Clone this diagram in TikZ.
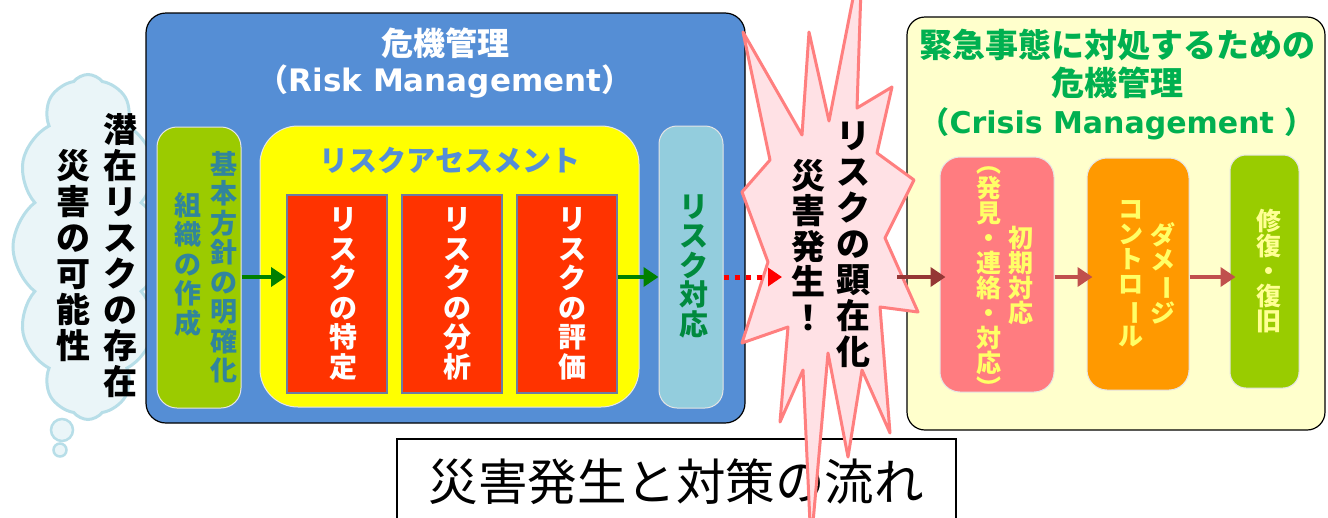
\documentclass[tikz,border=0pt]{standalone}
\usepackage{fontspec}
\setmainfont{Noto Sans CJK JP}
\newfontfamily\latinb{DejaVu Sans}
\usetikzlibrary{shapes.symbols,arrows.meta}

\definecolor{riskblue}{HTML}{558ED5}
\definecolor{basegreen}{HTML}{9BCB00}
\definecolor{tealtext}{HTML}{31859C}
\definecolor{assessyellow}{HTML}{FFFF00}
\definecolor{assessred}{HTML}{FF3300}
\definecolor{redborder}{HTML}{6D7BA3}
\definecolor{respblue}{HTML}{93CDDD}
\definecolor{respgreen}{HTML}{008A3E}
\definecolor{arrowgreen}{HTML}{008000}
\definecolor{crisisbg}{HTML}{FFFFCC}
\definecolor{crisisgreen}{HTML}{00B050}
\definecolor{initpink}{HTML}{FF7C80}
\definecolor{dmgorange}{HTML}{FF9900}
\definecolor{recgreen}{HTML}{99CC00}
\definecolor{paleyellow}{HTML}{FFFF66}
\definecolor{brownarrow}{HTML}{953735}
\definecolor{redarrow}{HTML}{C0504D}
\definecolor{burstline}{HTML}{FF7F7F}
\definecolor{burstfill}{HTML}{FFE1E5}
\definecolor{cloudline}{HTML}{B7DEE8}
\definecolor{cloudfill}{HTML}{EAF5F8}

% rotate a glyph for vertical writing
\newcommand\vrot[1]{\rotatebox[origin=c]{-90}{#1}}

\begin{document}
\begin{tikzpicture}[x=1pt,y=-1pt,
  vtext/.style={align=center,inner sep=0pt,font=\bfseries\fontsize{#1}{#1}\selectfont},
  htext/.style={inner sep=0pt,font=\bfseries\fontsize{#1}{#1}\selectfont},
  panel/.style={rounded corners=#1,inner sep=0pt},
  garrow/.style={draw=arrowgreen,line width=4.5pt,-{Triangle[length=15pt,width=19pt]}},
  brarrow/.style={draw=redarrow,line width=4.5pt,-{Triangle[length=15pt,width=19pt]},shorten >=-6pt},
  dotarrow/.style={draw=red,line width=5pt,dash pattern=on 5.5pt off 5.5pt,-{Triangle[length=14pt,width=18pt]}}
]
\useasboundingbox (0,0) rectangle (1328,517);
\fill[white] (0,0) rectangle (1328,517);

% thought cloud: latent risk
\node[cloud,cloud puffs=12,cloud puff arc=105,cloud ignores aspect,
      minimum width=150pt,minimum height=345pt,draw=cloudline,line width=3pt,
      fill=cloudfill] (cl) at (88,247) {};
\node[circle,draw=cloudline,fill=cloudfill,line width=2.5pt,minimum size=22pt,inner sep=0pt] (bub1) at (62,430) {};
\node[circle,draw=cloudline,fill=cloudfill,line width=2.5pt,minimum size=13pt,inner sep=0pt] (bub2) at (60,450) {};
\node[vtext=34,font=\bfseries\fontsize{34}{36}\selectfont] (cl1) at (120,256) {潜\\在\\リ\\ス\\ク\\の\\存\\在};
\node[vtext=34,font=\bfseries\fontsize{34}{36}\selectfont] (cl2) at (73,256) {災\\害\\の\\可\\能\\性};

% risk management panel
\node[panel=20pt,draw=black,line width=1.2pt,fill=riskblue,minimum width=599pt,minimum height=410pt] (rm) at (445.5,218) {};
\node[htext=32,text=white] (rmt) at (445,43) {危機管理};
\node[htext=31,text=white] (rms) at (445,81) {（{\latinb\bfseries Risk Management}）};

% basic policy column
\node[panel=20pt,draw=white!90!black,line width=1pt,fill=basegreen,minimum width=84pt,minimum height=281pt] (bp) at (199,267.5) {};
\node[vtext=27,font=\bfseries\fontsize{27}{29.5}\selectfont,text=tealtext] (bp1) at (224,267) {基\\本\\方\\針\\の\\明\\確\\化};
\node[vtext=27,font=\bfseries\fontsize{27}{29.5}\selectfont,text=tealtext] (bp2) at (188,264) {組\\織\\の\\作\\成};

% risk assessment
\node[panel=38pt,draw=white!90!black,line width=1pt,fill=assessyellow,minimum width=379pt,minimum height=281pt] (ra) at (449.5,266.5) {};
\node[htext=29,text=riskblue] (rat) at (450,160) {リスクアセスメント};
\node[draw=redborder,line width=2pt,fill=assessred,minimum width=100pt,minimum height=198pt,inner sep=0pt] (r1) at (337,294) {};
\node[draw=redborder,line width=2pt,fill=assessred,minimum width=100pt,minimum height=198pt,inner sep=0pt] (r2) at (451.5,294) {};
\node[draw=redborder,line width=2pt,fill=assessred,minimum width=100pt,minimum height=198pt,inner sep=0pt] (r3) at (566.5,294) {};
\node[vtext=28,font=\bfseries\fontsize{28}{29.5}\selectfont,text=white] (r1t) at (343,294) {リ\\ス\\ク\\の\\特\\定};
\node[vtext=28,font=\bfseries\fontsize{28}{29.5}\selectfont,text=white] (r2t) at (457,294) {リ\\ス\\ク\\の\\分\\析};
\node[vtext=28,font=\bfseries\fontsize{28}{29.5}\selectfont,text=white] (r3t) at (572,294) {リ\\ス\\ク\\の\\評\\価};

% risk response
\node[panel=18pt,draw=white!90!black,line width=1pt,fill=respblue,minimum width=64pt,minimum height=282pt] (lb) at (691,267) {};
\node[vtext=29,font=\bfseries\fontsize{29}{29.5}\selectfont,text=respgreen] (lbt) at (694,266) {リ\\ス\\ク\\対\\応};

\coordinate (ay) at (0,277);
\draw[garrow] (bp.east |- ay) -- (r1.west |- ay);
\draw[garrow] (r3.east |- ay) -- (lb.west |- ay);

% crisis management panel
\node[panel=18pt,draw=black,line width=1.2pt,fill=crisisbg,minimum width=418pt,minimum height=413pt] (cm) at (1116,223.5) {};
\node[htext=33,text=crisisgreen] (cm1) at (1117,45) {緊急事態に対処するための};
\node[htext=33,text=crisisgreen] (cm2) at (1117,83) {危機管理};
\node[htext=30,text=crisisgreen] (cm3) at (1117,124) {（{\latinb\bfseries Crisis Management }）};

\node[panel=20pt,draw=white!90!black,line width=1pt,fill=initpink,minimum width=114pt,minimum height=235pt] (ip) at (997,274.5) {};
\node[vtext=25,text=paleyellow] (ip1) at (989,275) {\vrot{（}\\発\\見\\・\\連\\絡\\・\\対\\応\\\vrot{）}};
\node[vtext=25,text=paleyellow] (ip2) at (1021,275) {初\\期\\対\\応};

\node[panel=20pt,draw=white!90!black,line width=1pt,fill=dmgorange,minimum width=102pt,minimum height=232pt] (dc) at (1138,274) {};
\node[vtext=25,text=paleyellow] (dc1) at (1131,274) {コ\\ン\\ト\\ロ\\\vrot{ー}\\ル};
\node[vtext=25,text=paleyellow] (dc2) at (1163,273) {ダ\\メ\\\vrot{ー}\\ジ};

\node[panel=16pt,draw=white!90!black,line width=1pt,fill=recgreen,minimum width=69pt,minimum height=233pt] (rr) at (1264.5,271.5) {};
\node[vtext=25,text=paleyellow!70!white] (rrt) at (1269,271) {修\\復\\・\\復\\旧};

\draw[brarrow] (ip.east |- ay) -- (dc.west |- ay);
\draw[brarrow] (dc.east |- ay) -- (rr.west |- ay);

% caption box
\node[draw=black,line width=2.5pt,fill=white,minimum width=559pt,minimum height=101pt,inner sep=0pt] (cap) at (676.5,489.5) {};
\node[inner sep=0pt,font=\fontsize{49.5}{49.5}\selectfont] (capt) at (676,482) {災害発生と対策の流れ};

% explosion: the risk materialises
\draw[burstline,line width=3pt,fill=burstfill,line join=round]
  (743,32) -- (802,135) -- (809,32) -- (829,121) -- (855,-12) -- (861,-12) -- (857,108)
  -- (892,87) -- (877,153) -- (914,180) -- (885,238) -- (918,312) -- (880,307)
  -- (890,433) -- (862,370) -- (848,457) -- (828,353) -- (811,545) -- (803,370)
  -- (780,422) -- (788,327) -- (742,343) -- (768,262) -- (742,192) -- (770,160) -- cycle;

\coordinate (dotend) at (782,277);
\draw[dotarrow] (lb.east |- ay) -- (dotend);
\coordinate (burstexit) at (897,277);
\draw[brarrow,draw=brownarrow] (burstexit) -- (ip.west |- ay);

\node[vtext=34,font=\bfseries\fontsize{34}{36}\selectfont] (bs1) at (853,245) {リ\\ス\\ク\\の\\顕\\在\\化};
\node[vtext=34,font=\bfseries\fontsize{34}{35.5}\selectfont] (bs2) at (808,245) {災\\害\\発\\生\\！};
\end{tikzpicture}
\end{document}
